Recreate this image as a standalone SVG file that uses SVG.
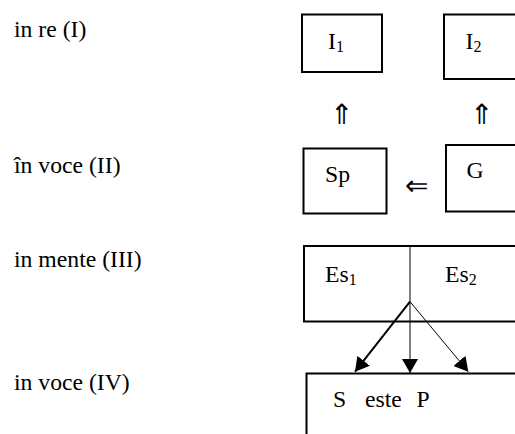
<svg xmlns="http://www.w3.org/2000/svg" width="515" height="434" viewBox="0 0 515 434">
<style>
text { font-family: "Liberation Serif", "Times New Roman", serif; font-size: 23.7px; fill: #000; }
.sub { font-size: 16px; }
.box { fill: #fff; stroke: #000; stroke-width: 2; }
.sym { font-family: "DejaVu Sans", sans-serif; font-size: 28px; font-weight: 200; }
.thin { stroke: #000; stroke-width: 1; fill: none; }
.thick { stroke: #000; stroke-width: 2; fill: none; }
</style>
<defs>
<marker id="ah" markerUnits="userSpaceOnUse" markerWidth="16" markerHeight="16" refX="14" refY="8" orient="auto">
<path d="M0,0 L14,8 L0,16 z" fill="#000"/>
</marker>
</defs>
<g id="levels">
<text x="14" y="36.7">in re (I)</text>
<text x="14" y="173">în voce (II)</text>
<text x="14" y="266.7">in mente (III)</text>
<text x="14" y="390">in voce (IV)</text>
</g>
<g id="I1">
<rect class="box" x="302" y="14.5" width="80" height="57.5"/>
<text x="328" y="48.5">I<tspan class="sub" dy="3.5">1</tspan></text>
</g>
<g id="I2">
<rect class="box" x="444" y="14.5" width="90" height="64.5"/>
<text x="465.5" y="48.5">I<tspan class="sub" dy="3.5">2</tspan></text>
</g>
<g id="Sp">
<rect class="box" x="303.5" y="148.5" width="83" height="65"/>
<text x="325" y="181.5">Sp</text>
</g>
<g id="G">
<rect class="box" x="446" y="145" width="90" height="66.5"/>
<text x="466.5" y="178">G</text>
</g>
<g id="Es">
<rect class="box" x="304" y="246" width="230" height="75.5"/>
<text x="325" y="281.5">Es<tspan class="sub" dy="3.5">1</tspan></text>
<text x="445" y="281.5">Es<tspan class="sub" dy="3.5">2</tspan></text>
</g>
<g id="SesteP">
<rect class="box" x="306.5" y="373.5" width="230" height="80"/>
<text y="407"><tspan x="333">S</tspan><tspan x="365">este</tspan><tspan x="416.5">P</tspan></text>
</g>
<g id="connectors">
<text class="sym" x="341.7" y="124" text-anchor="middle">⇑</text>
<text class="sym" x="481.7" y="124" text-anchor="middle">⇑</text>
<text class="sym" x="416.7" y="195" text-anchor="middle">⇐</text>
<line class="thin" x1="410" y1="246" x2="410" y2="373" marker-end="url(#ah)"/>
<line class="thick" x1="410" y1="301.7" x2="355" y2="371.7" marker-end="url(#ah)"/>
<line class="thin" x1="410" y1="301.7" x2="468.3" y2="371.7" marker-end="url(#ah)"/>
</g>
</svg>
